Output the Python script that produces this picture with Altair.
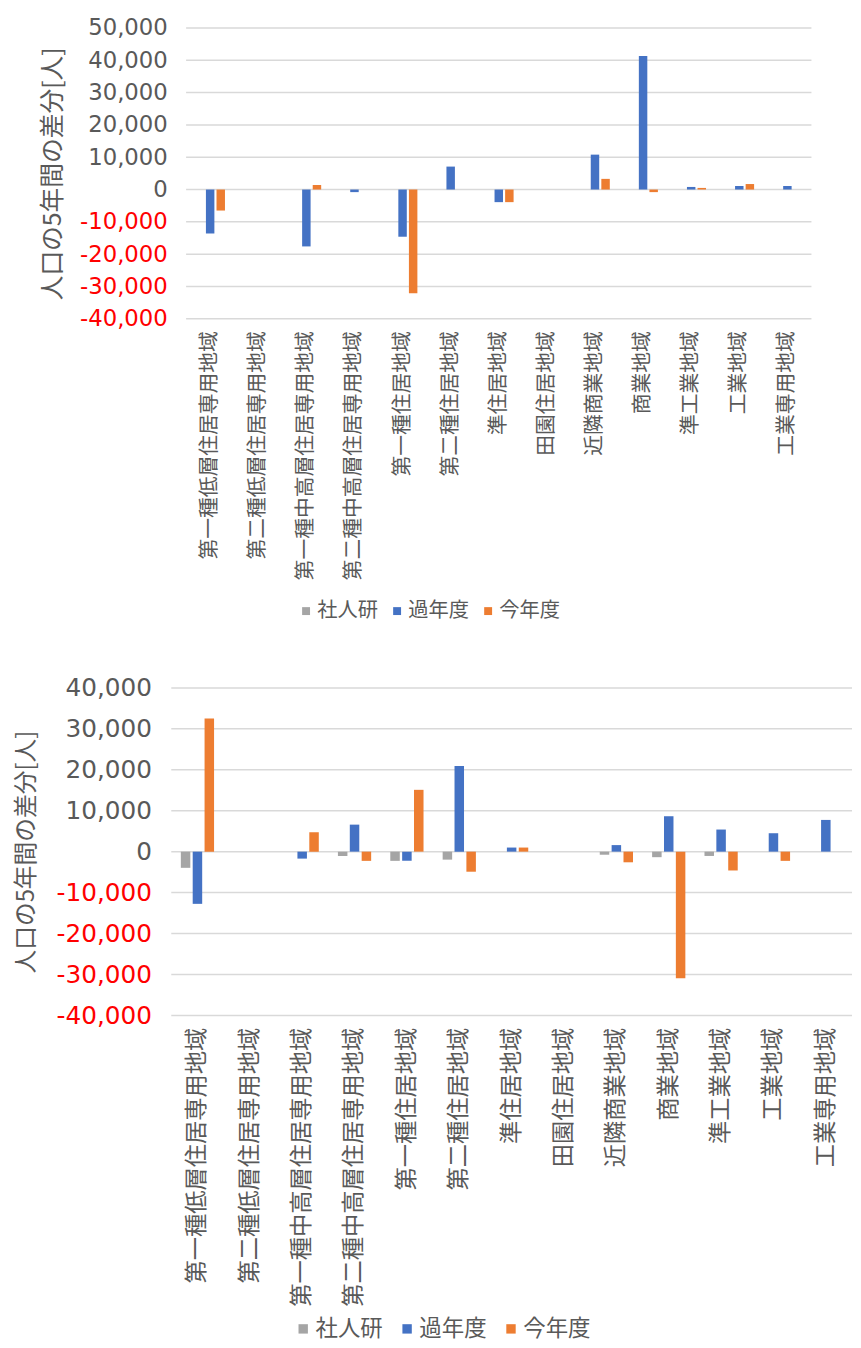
import altair as alt
import pandas as pd

categories = [
    "第一種低層住居専用地域", "第二種低層住居専用地域", "第一種中高層住居専用地域",
    "第二種中高層住居専用地域", "第一種住居地域", "第二種住居地域", "準住居地域",
    "田園住居地域", "近隣商業地域", "商業地域", "準工業地域", "工業地域", "工業専用地域",
]
series = ["社人研", "過年度", "今年度"]
colors = ["#A5A5A5", "#4472C4", "#ED7D31"]

# top chart
top_shajinken = [0, 0, 0, 0, 0, 0, 0, 0, 0, 0, 0, 0, 0]
top_kanendo = [-13600, 0, -17600, -800, -14600, 7100, -3900, 0, 10800, 41300, 800, 1100, 1100]
top_konnendo = [-6500, 0, 1400, 0, -32100, 0, -3900, 0, 3300, -800, 500, 1700, 0]

# bottom chart
bot_shajinken = [-3950, 0, 0, -1050, -2250, -1950, 0, 0, -750, -1350, -1050, 0, 0]
bot_kanendo = [-12750, 0, -1700, 6600, -2250, 20900, 1000, 0, 1600, 8650, 5400, 4500, 7750]
bot_konnendo = [32500, 0, 4750, -2250, 15100, -4900, 1000, 0, -2600, -30900, -4600, -2250, 0]

top_ticks = [-40000, -30000, -20000, -10000, 0, 10000, 20000, 30000, 40000, 50000]
bot_ticks = [-40000, -30000, -20000, -10000, 0, 10000, 20000, 30000, 40000]

y_title = "人口の5年間の差分[人]"
TEXT = "#595959"
CJK = "Noto Sans CJK JP"
NUM = "DejaVu Sans"


def long_df(a, b, c):
    rows = []
    for s, vals in zip(series, [a, b, c]):
        for cat, v in zip(categories, vals):
            rows.append({"cat": cat, "series": s, "value": v})
    return pd.DataFrame(rows)


def panel(df, ticks, width, x0, height, cat_size, num_size, title_size, title_x,
          label_pad, leg_x, leg_y, sym_size, leg_size, col_pad, pin, pout, xlab_pad):
    y_scale = alt.Scale(domain=[ticks[0], ticks[-1]], nice=False, zero=False)
    y_axis = alt.Axis(
        title=y_title, values=ticks, grid=False, ticks=False, domain=False,
        labelFont=NUM, labelFontSize=num_size, labelPadding=label_pad,
        labelExpr="(datum.value < 0 ? '-' : '') + format(abs(datum.value), ',')",
        labelColor=alt.expr("datum.value < 0 ? '#FF0000' : '" + TEXT + "'"),
        titleFont=CJK, titleFontSize=title_size, titleFontWeight="normal",
        titleColor=TEXT, titleX=title_x, titleY=height / 2,
        titleBaseline="middle", titleAlign="center",
    )
    grid = alt.Chart(pd.DataFrame({"value": ticks})).mark_rule(
        color="#D9D9D9", strokeWidth=1.5
    ).encode(
        y=alt.Y("value:Q", scale=y_scale, axis=y_axis),
        x=alt.value(x0),
        x2=alt.value(width),
    )
    bars = alt.Chart(df).mark_bar().encode(
        x=alt.X(
            "cat:N",
            sort=categories,
            scale=alt.Scale(range=[x0, width], paddingInner=pin, paddingOuter=pout),
            axis=alt.Axis(
                title=None, labelAngle=-90, labelFont=CJK, labelFontSize=cat_size,
                labelColor=TEXT, labelLimit=500, labelPadding=xlab_pad,
                ticks=False, domain=False, grid=False,
            ),
        ),
        xOffset=alt.XOffset(
            "series:N", sort=series,
            scale=alt.Scale(domain=series, paddingInner=0.2, paddingOuter=0.1),
        ),
        y=alt.Y("value:Q", scale=y_scale, axis=y_axis),
        color=alt.Color(
            "series:N",
            sort=series,
            scale=alt.Scale(domain=series, range=colors),
            legend=alt.Legend(
                title=None, orient="none", legendX=leg_x, legendY=leg_y,
                direction="horizontal", symbolType="square", symbolSize=sym_size,
                symbolStrokeWidth=0, labelFont=CJK, labelFontSize=leg_size,
                labelColor=TEXT, columnPadding=col_pad, labelOffset=1,
            ),
        ),
    )
    return alt.layer(grid, bars).properties(width=width, height=height)


top = panel(long_df(top_shajinken, top_kanendo, top_konnendo), top_ticks,
            width=647, x0=15, height=294, cat_size=21, num_size=23, title_size=25,
            title_x=-119.5, label_pad=4, leg_x=126, leg_y=579, sym_size=64,
            leg_size=20.5, col_pad=9, pin=0.34, pout=0.17, xlab_pad=12)

bottom = panel(long_df(bot_shajinken, bot_kanendo, bot_konnendo), bot_ticks,
               width=688, x0=0, height=331, cat_size=23.5, num_size=25, title_size=24,
               title_x=-146, label_pad=20, leg_x=122, leg_y=636, sym_size=90,
               leg_size=22.7, col_pad=13, pin=0.32, pout=0.16, xlab_pad=12)

chart = alt.vconcat(top, bottom, spacing=55).resolve_scale(
    x="independent", y="independent", xOffset="independent", color="independent"
).resolve_legend(color="independent").properties(
    padding={"left": 6, "top": 2, "right": 0, "bottom": 0}
).configure_view(stroke=None)

chart.save("out.html", embed_options={"renderer": "svg", "actions": False})
